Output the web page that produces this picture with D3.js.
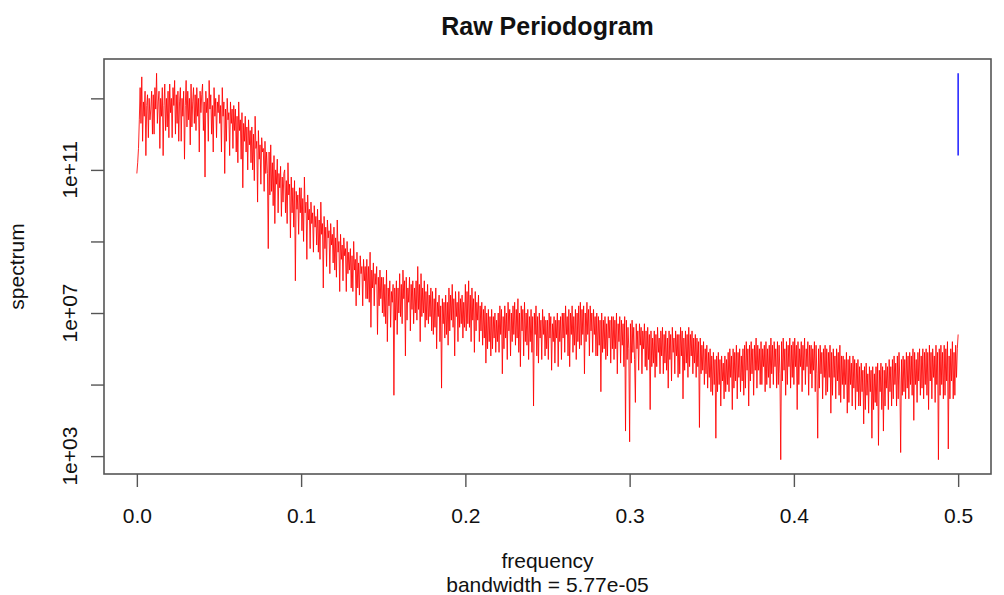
<!DOCTYPE html>
<html>
<head>
<meta charset="utf-8">
<script src="https://cdn.jsdelivr.net/npm/d3@7"></script>
<style>
  body { margin: 0; background: #fff; }
  svg { display: block; font-family: "Liberation Sans", Arial, sans-serif; }
</style>
</head>
<body>
<svg id="chart" width="1004" height="595"></svg>
<script>
// raw periodogram, log10(spectrum), one value every 0.0005 in frequency
// (one row = 0.01 of frequency)
var freqStep = 0.0005;
var spectrumLog10 = [
  10.9, 11.2, 11.6, 12.4, 13.3, 12.3, 13.6, 11.8, 12.9, 12.5, 13.2, 11.4, 12.8, 13.1, 11.9, 13.0, 12.4, 12.7, 13.2, 12.0,
  13.1, 12.0, 13.3, 12.7, 13.7, 12.3, 12.9, 13.2, 11.6, 13.0, 12.5, 13.3, 11.4, 12.8, 13.4, 12.1, 13.0, 12.2, 13.2, 11.9,
  13.4, 12.6, 13.0, 11.9, 13.3, 12.8, 13.5, 12.0, 13.1, 12.3, 13.2, 11.8, 12.9, 13.3, 11.8, 13.0, 12.5, 13.2, 11.3, 12.8,
  13.5, 12.2, 13.2, 12.4, 13.0, 11.7, 13.4, 12.2, 12.9, 13.3, 12.3, 13.1, 12.1, 13.3, 12.5, 13.0, 11.5, 13.2, 12.6, 13.1,
  13.4, 12.1, 12.9, 10.8, 13.2, 12.6, 13.0, 11.8, 13.5, 12.7, 13.1, 12.0, 12.8, 11.5, 13.3, 12.5, 13.0, 11.9, 12.9, 12.6,
  13.1, 12.3, 12.8, 11.5, 13.3, 12.5, 12.9, 10.9, 12.7, 11.8, 13.0, 12.4, 12.6, 11.4, 12.9, 12.3, 12.7, 11.6, 12.8, 12.1,
  12.7, 11.5, 12.5, 11.2, 12.9, 12.1, 12.4, 11.3, 12.6, 10.5, 12.3, 11.8, 12.5, 11.5, 12.2, 11.0, 12.4, 11.7, 12.1, 11.2,
  12.2, 11.0, 12.0, 10.7, 12.5, 11.6, 11.8, 10.1, 12.1, 11.3, 11.7, 10.6, 11.9, 11.5, 11.6, 10.4, 11.8, 10.9, 11.5, 10.9,
  8.8, 11.5, 10.3, 11.7, 10.4, 11.2, 10.0, 11.4, 9.5, 11.0, 10.6, 11.3, 9.8, 10.9, 10.5, 11.1, 9.7, 10.8, 10.1, 10.9,
  11.0, 9.8, 10.7, 9.5, 11.2, 10.3, 10.6, 9.1, 10.8, 9.8, 10.5, 9.4, 10.7, 7.9, 10.4, 9.9, 10.3, 9.2, 10.5, 9.8,
  10.5, 9.3, 10.2, 9.0, 10.8, 9.8, 10.1, 8.5, 10.3, 9.6, 9.9, 8.8, 10.1, 9.5, 9.8, 8.7, 10.0, 9.4, 9.7, 8.9,
  9.9, 8.7, 9.6, 8.5, 10.1, 9.2, 9.5, 7.7, 9.7, 8.8, 9.4, 8.3, 9.6, 9.1, 9.3, 8.1, 9.5, 8.9, 9.2, 8.4,
  9.4, 8.2, 9.1, 8.0, 9.6, 8.7, 9.0, 7.6, 9.2, 8.5, 8.9, 7.9, 9.1, 8.6, 8.8, 7.6, 9.0, 8.1, 8.7, 8.2,
  8.8, 7.7, 8.6, 7.6, 9.0, 8.2, 8.5, 7.2, 8.7, 7.7, 8.4, 7.5, 8.6, 8.1, 8.3, 7.2, 8.5, 7.9, 8.3, 7.4,
  8.5, 7.4, 8.3, 7.3, 8.7, 6.6, 8.2, 7.7, 8.4, 7.2, 8.1, 7.8, 8.3, 6.4, 8.0, 7.2, 8.2, 7.4, 8.0, 7.0,
  8.0, 6.9, 7.8, 6.7, 8.2, 6.2, 7.7, 7.2, 7.9, 6.6, 7.6, 7.3, 7.8, 4.7, 7.7, 6.8, 7.9, 6.4, 7.7, 7.0,
  8.1, 6.9, 7.8, 6.7, 8.2, 7.4, 7.9, 5.8, 8.0, 6.8, 7.7, 7.3, 8.0, 6.5, 7.8, 7.1, 7.9, 6.7, 7.7, 7.0,
  7.9, 6.8, 8.3, 7.1, 7.8, 6.2, 8.1, 6.9, 7.7, 7.0, 7.9, 6.6, 7.6, 6.8, 7.8, 6.7, 7.5, 6.9, 7.7, 6.5,
  7.6, 6.4, 7.4, 6.6, 7.7, 6.0, 7.3, 6.9, 7.5, 6.2, 7.2, 4.9, 7.4, 6.7, 7.3, 6.3, 7.5, 6.4, 7.3, 6.1,
  7.7, 6.5, 7.5, 6.8, 7.8, 6.6, 7.4, 5.8, 7.6, 6.9, 7.3, 6.2, 7.6, 6.6, 7.4, 6.7, 7.5, 6.3, 7.3, 6.6,
  7.8, 6.5, 7.6, 6.7, 7.9, 6.6, 7.5, 6.2, 7.7, 6.8, 7.4, 5.9, 7.6, 6.5, 7.3, 6.8, 7.5, 6.2, 7.2, 6.5,
  7.3, 6.1, 7.1, 6.3, 7.2, 5.6, 7.0, 6.0, 7.1, 6.2, 6.9, 5.8, 7.1, 6.0, 6.9, 6.3, 7.0, 5.9, 6.8, 6.2,
  7.0, 5.9, 7.2, 6.4, 7.1, 5.3, 6.9, 6.0, 7.2, 6.3, 7.0, 5.7, 7.3, 6.5, 7.1, 5.8, 7.0, 6.2, 7.2, 6.4,
  7.3, 6.1, 7.1, 6.3, 7.4, 5.9, 7.0, 5.5, 7.2, 6.5, 7.1, 5.8, 7.3, 6.2, 7.0, 6.1, 7.1, 5.7, 6.9, 6.2,
  7.1, 5.9, 6.9, 4.4, 7.0, 6.4, 7.2, 5.8, 6.9, 5.6, 7.0, 6.3, 6.8, 5.7, 7.1, 6.4, 6.9, 5.8, 6.8, 6.0,
  6.8, 5.7, 7.0, 6.3, 6.9, 5.4, 6.7, 6.2, 6.9, 5.6, 6.8, 6.3, 7.0, 5.5, 6.8, 6.2, 6.9, 5.7, 7.0, 6.3,
  7.0, 5.9, 7.2, 6.4, 6.9, 5.8, 7.1, 5.5, 7.0, 6.4, 7.2, 5.9, 6.9, 6.1, 7.1, 5.7, 7.0, 6.2, 7.2, 6.0,
  7.3, 6.1, 7.1, 6.4, 7.2, 5.3, 7.0, 6.2, 7.3, 6.4, 7.1, 5.8, 7.2, 6.5, 7.0, 5.9, 7.1, 6.4, 6.9, 5.8,
  7.0, 5.8, 6.9, 6.1, 6.8, 4.8, 7.0, 5.9, 6.8, 6.0, 6.9, 5.7, 6.7, 5.8, 6.9, 6.3, 6.8, 5.6, 6.9, 6.0,
  6.9, 5.7, 6.8, 6.0, 7.0, 5.3, 6.7, 6.2, 6.9, 5.6, 6.8, 6.1, 6.7, 5.5, 6.9, 3.7, 6.8, 5.7, 6.6, 6.0,
  3.4, 6.7, 5.6, 6.8, 5.9, 6.6, 5.7, 4.5, 6.7, 6.0, 6.5, 5.4, 6.7, 6.1, 6.6, 5.3, 6.5, 6.0, 6.7, 5.5,
  6.5, 5.4, 6.6, 5.7, 6.4, 4.3, 6.5, 5.5, 6.3, 5.6, 6.5, 5.2, 6.4, 5.5, 6.6, 5.9, 6.3, 5.3, 6.5, 5.8,
  6.6, 5.3, 6.4, 5.6, 6.5, 5.4, 6.3, 4.9, 6.5, 5.7, 6.4, 5.1, 6.6, 5.9, 6.3, 5.3, 6.5, 5.8, 6.4, 5.2,
  6.4, 5.3, 6.6, 5.8, 6.5, 4.6, 6.3, 5.4, 6.5, 5.6, 6.4, 5.2, 6.6, 5.5, 6.4, 5.8, 6.5, 5.3, 6.3, 5.6,
  6.4, 5.2, 6.3, 5.5, 6.2, 3.8, 6.3, 5.3, 6.1, 5.4, 6.2, 5.0, 6.0, 5.3, 6.1, 4.9, 5.9, 5.2, 6.0, 4.8,
  5.8, 4.7, 5.9, 5.0, 5.7, 3.5, 5.8, 4.8, 5.9, 5.0, 5.7, 4.4, 5.8, 5.1, 5.6, 4.6, 5.8, 4.8, 5.7, 5.0,
  5.9, 4.8, 6.0, 5.2, 5.8, 4.3, 6.0, 4.9, 5.9, 5.1, 6.1, 4.6, 5.9, 5.2, 6.0, 4.8, 5.8, 5.1, 6.0, 4.7,
  6.1, 4.9, 6.2, 5.4, 6.0, 4.4, 6.1, 5.1, 6.2, 5.3, 6.0, 4.7, 6.1, 5.4, 6.3, 4.9, 6.1, 5.4, 6.0, 5.0,
  6.2, 5.0, 6.0, 5.5, 6.1, 4.8, 6.2, 5.0, 6.0, 5.2, 6.1, 4.9, 6.3, 5.3, 6.1, 5.0, 6.2, 5.5, 6.0, 4.9,
  6.2, 5.0, 6.1, 5.3, 2.9, 6.2, 5.1, 6.3, 5.4, 6.0, 4.7, 6.2, 5.0, 6.1, 5.5, 6.3, 4.9, 6.1, 5.2, 6.2,
  5.0, 6.3, 5.5, 6.1, 4.3, 6.2, 5.0, 6.0, 5.5, 6.2, 4.8, 6.1, 5.4, 6.3, 5.0, 6.0, 5.5, 6.2, 4.7, 6.1,
  5.3, 6.1, 4.9, 6.0, 5.4, 6.2, 4.8, 6.1, 5.3, 3.5, 6.0, 4.9, 6.1, 5.3, 5.9, 4.6, 6.0, 5.2, 6.1, 4.7,
  6.0, 4.8, 5.9, 5.2, 6.1, 4.2, 5.9, 4.7, 6.0, 5.2, 5.8, 4.6, 6.0, 5.1, 5.9, 4.7, 6.1, 4.5, 5.8, 5.0,
  5.8, 4.6, 5.7, 5.0, 5.9, 4.2, 5.7, 4.5, 5.8, 5.0, 5.6, 4.4, 5.8, 4.9, 5.7, 4.3, 5.6, 4.8, 5.7, 4.4,
  5.5, 4.4, 5.6, 4.8, 5.4, 3.9, 5.5, 4.3, 5.6, 4.7, 5.3, 4.2, 5.5, 4.8, 5.4, 3.5, 5.5, 4.3, 5.3, 4.5,
  5.5, 4.4, 5.6, 3.3, 5.4, 4.8, 5.6, 4.3, 5.5, 3.7, 5.4, 4.4, 5.6, 4.9, 5.5, 4.3, 5.7, 4.8, 5.5, 4.4,
  5.7, 4.6, 5.8, 5.0, 5.6, 4.4, 5.8, 4.6, 5.9, 5.1, 3.1, 5.7, 4.7, 5.8, 4.8, 5.7, 4.6, 5.9, 4.9, 5.8,
  4.6, 5.9, 5.0, 5.8, 4.7, 6.0, 4.0, 5.9, 5.0, 5.7, 4.5, 5.9, 5.1, 6.0, 4.7, 5.8, 4.9, 6.0, 4.6, 5.9,
  5.0, 6.0, 4.7, 5.9, 4.3, 6.1, 5.1, 5.9, 4.6, 6.0, 5.2, 5.8, 4.5, 6.1, 5.0, 5.9, 2.9, 6.0, 4.7, 6.1,
  5.0, 5.9, 4.6, 6.1, 4.7, 6.0, 5.1, 6.2, 3.2, 5.8, 4.6, 6.0, 5.1, 6.2, 4.6, 5.9, 4.7, 6.1, 5.2, 6.0,
  6.4
];
// blue confidence bar at the right edge (log10 limits)
var ciFreq = 0.5;
var ciLog10 = [11.4, 13.7];

var xTicks = [0, 0.1, 0.2, 0.3, 0.4, 0.5];
var yTicks = [1e3, 1e5, 1e7, 1e9, 1e11, 1e13];
var yTickLabels = ["1e+03", "", "1e+07", "", "1e+11", ""];

var titleText = "Raw Periodogram";
var xLabel = "frequency";
var subLabel = "bandwidth = 5.77e-05";
var yLabel = "spectrum";

var svg = d3.select("#chart");
// note: "top" is reserved on window, so plot edges get their own names
var plotL = 104, plotR = 991, plotT = 59, plotB = 474;

var x = d3.scaleLinear().domain([-0.02, 0.52]).range([plotL, plotR]);
var y = d3.scaleLog().domain([Math.pow(10, 2.5), Math.pow(10, 14.1)]).range([plotB, plotT]);

var pts = spectrumLog10.map(function(v, i) { return {f: i * freqStep, s: Math.pow(10, v)}; });

var line = d3.line()
  .x(function(d) { return x(d.f); })
  .y(function(d) { return y(d.s); });

svg.append("path")
  .datum(pts)
  .attr("d", line)
  .attr("fill", "none")
  .attr("stroke", "#ff0000")
  .attr("stroke-opacity", 0.85)
  .attr("stroke-width", 1);

svg.append("line")
  .attr("x1", x(ciFreq)).attr("x2", x(ciFreq))
  .attr("y1", y(Math.pow(10, ciLog10[0])))
  .attr("y2", y(Math.pow(10, ciLog10[1])))
  .attr("stroke", "#2a2aff")
  .attr("stroke-width", 1.6);

// box
svg.append("rect")
  .attr("x", plotL).attr("y", plotT)
  .attr("width", plotR - plotL).attr("height", plotB - plotT)
  .attr("fill", "none")
  .attr("stroke", "#555")
  .attr("stroke-width", 1.6);

var xAxis = svg.append("g")
  .attr("transform", "translate(0," + plotB + ")")
  .call(d3.axisBottom(x).tickValues(xTicks).tickFormat(d3.format(".1f")).tickSize(13).tickPadding(21));
xAxis.select(".domain").remove();
xAxis.selectAll("line").attr("stroke", "#555").attr("stroke-width", 1.4);
xAxis.selectAll("text").attr("font-size", 21).attr("fill", "#111").attr("font-family", null);

var yAxis = svg.append("g")
  .attr("transform", "translate(" + plotL + ",0)")
  .call(d3.axisLeft(y).tickValues(yTicks).tickFormat("").tickSize(13));
yAxis.select(".domain").remove();
yAxis.selectAll("line").attr("stroke", "#555").attr("stroke-width", 1.4);

svg.selectAll(".ylab")
  .data(yTicks)
  .enter().append("text")
  .attr("class", "ylab")
  .attr("transform", function(d) { return "translate(77," + y(d) + ") rotate(-90)"; })
  .attr("text-anchor", "middle")
  .attr("font-size", 21)
  .attr("fill", "#111")
  .text(function(d, i) { return yTickLabels[i]; });

svg.append("text")
  .attr("x", (plotL + plotR) / 2).attr("y", 35)
  .attr("text-anchor", "middle")
  .attr("font-size", 25).attr("font-weight", "bold")
  .attr("fill", "#111")
  .text(titleText);

svg.append("text")
  .attr("x", (plotL + plotR) / 2).attr("y", 568)
  .attr("text-anchor", "middle")
  .attr("font-size", 21).attr("fill", "#111")
  .text(xLabel);

svg.append("text")
  .attr("x", (plotL + plotR) / 2).attr("y", 592)
  .attr("text-anchor", "middle")
  .attr("font-size", 21).attr("fill", "#111")
  .text(subLabel);

svg.append("text")
  .attr("transform", "translate(24," + ((plotT + plotB) / 2) + ") rotate(-90)")
  .attr("text-anchor", "middle")
  .attr("font-size", 21).attr("fill", "#111")
  .text(yLabel);
</script>
</body>
</html>
